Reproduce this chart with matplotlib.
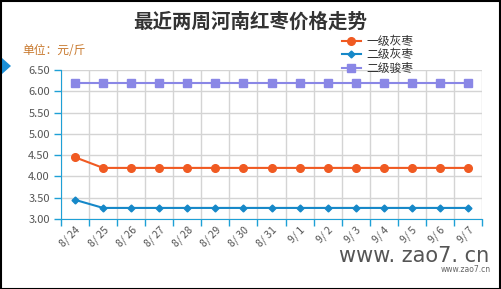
import matplotlib.pyplot as plt
from matplotlib.patches import Polygon, Rectangle

plt.rcParams['font.family'] = ['Noto Sans CJK SC', 'DejaVu Sans']

# Data
dates = ['8/ 24', '8/ 25', '8/ 26', '8/ 27', '8/ 28', '8/ 29', '8/ 30', '8/ 31',
         '9/ 1', '9/ 2', '9/ 3', '9/ 4', '9/ 5', '9/ 6', '9/ 7']
grade1_hui = [4.45, 4.20, 4.20, 4.20, 4.20, 4.20, 4.20, 4.20,
              4.20, 4.20, 4.20, 4.20, 4.20, 4.20, 4.20]
grade2_hui = [3.45, 3.26, 3.26, 3.26, 3.26, 3.26, 3.26, 3.26,
              3.26, 3.26, 3.26, 3.26, 3.26, 3.26, 3.26]
grade2_jun = [6.20] * 15
y_ticks = [3.00, 3.50, 4.00, 4.50, 5.00, 5.50, 6.00, 6.50]

axis_color = '#1ea0d6'
grid_color = '#d4d4d4'

fig = plt.figure(figsize=(5.01, 2.89), dpi=100)
ax = fig.add_axes([61 / 501, 1 - 219 / 289, 421 / 501, 149 / 289])

x = list(range(len(dates)))
ax.plot(x, grade2_jun, color='#8a87e6', marker='s', markersize=5.5, linewidth=1.5, label='二级骏枣', zorder=3)
ax.plot(x, grade1_hui, color='#f05a22', marker='o', markersize=5.5, linewidth=1.5, label='一级灰枣', zorder=3)
ax.plot(x, grade2_hui, color='#1688c8', marker='D', markersize=3.5, linewidth=1.5, label='二级灰枣', zorder=3)

ax.set_xlim(-0.5, len(dates) - 0.5)
ax.set_ylim(3.0, 6.5)
ax.set_yticks(y_ticks)
ax.set_yticklabels([f'{v:.2f}' for v in y_ticks], color='#555555', fontsize=8)

# category boundaries as ticks and vertical grid
bounds = [i - 0.5 for i in range(len(dates) + 1)]
ax.set_xticks(bounds)
ax.set_xticklabels([])
ax.set_xticks(x, minor=True)
ax.set_xticklabels(dates, minor=True, rotation=45, ha='right', va='top',
                   rotation_mode='anchor', fontsize=7.5, color='#555555')
ax.tick_params(axis='x', which='minor', length=0, pad=4)
ax.tick_params(axis='x', which='major', length=5, color=axis_color, width=1)
ax.tick_params(axis='y', length=5, color=axis_color, width=1, pad=3)

for b in bounds:
    ax.axvline(b, color=grid_color, linewidth=1, zorder=1)
for v in y_ticks:
    ax.axhline(v, color=grid_color, linewidth=1, zorder=1)

ax.spines['top'].set_visible(False)
ax.spines['right'].set_visible(False)
ax.spines['left'].set_color(axis_color)
ax.spines['bottom'].set_color(axis_color)
ax.spines['left'].set_zorder(4)
ax.spines['bottom'].set_zorder(4)

handles, labels = ax.get_legend_handles_labels()
order = [1, 2, 0]
ax.legend([handles[i] for i in order], [labels[i] for i in order],
          loc='upper left', bbox_to_anchor=(337 / 501, 1 - 30 / 289),
          bbox_transform=fig.transFigure, frameon=False, fontsize=8.5,
          handlelength=1.6, handletextpad=0.5, labelspacing=0.05,
          labelcolor='#333333', borderaxespad=0)

fig.text(250 / 501, 1 - 22 / 289, '最近两周河南红枣价格走势', ha='center', va='center',
         fontsize=14, fontweight='bold', color='#333333')
fig.text(22 / 501, 1 - 50 / 289, '单位：元/斤', ha='left', va='center',
         fontsize=8.5, color='#c8782c')

# watermark
fig.text(489 / 501, 1 - 256 / 289, 'www. zao7. cn', ha='right', va='center',
         fontsize=15, color='#555555', family='DejaVu Sans')
fig.text(491 / 501, 1 - 270 / 289, 'www.zao7.cn', ha='right', va='center',
         fontsize=5.5, color='#666666', family='DejaVu Sans')

# left marker triangle and frame
fig.patches.append(Polygon([(2 / 501, 1 - 58 / 289), (11 / 501, 1 - 66 / 289), (2 / 501, 1 - 74 / 289)],
                           closed=True, transform=fig.transFigure, facecolor='#1a8fd8', edgecolor='none'))
fig.patches.append(Rectangle((0.5 / 501, 0.0), 499 / 501, 1 - 0.5 / 289, transform=fig.transFigure,
                             fill=False, edgecolor='black', linewidth=1.5))

fig.savefig('out.png', dpi=100)
